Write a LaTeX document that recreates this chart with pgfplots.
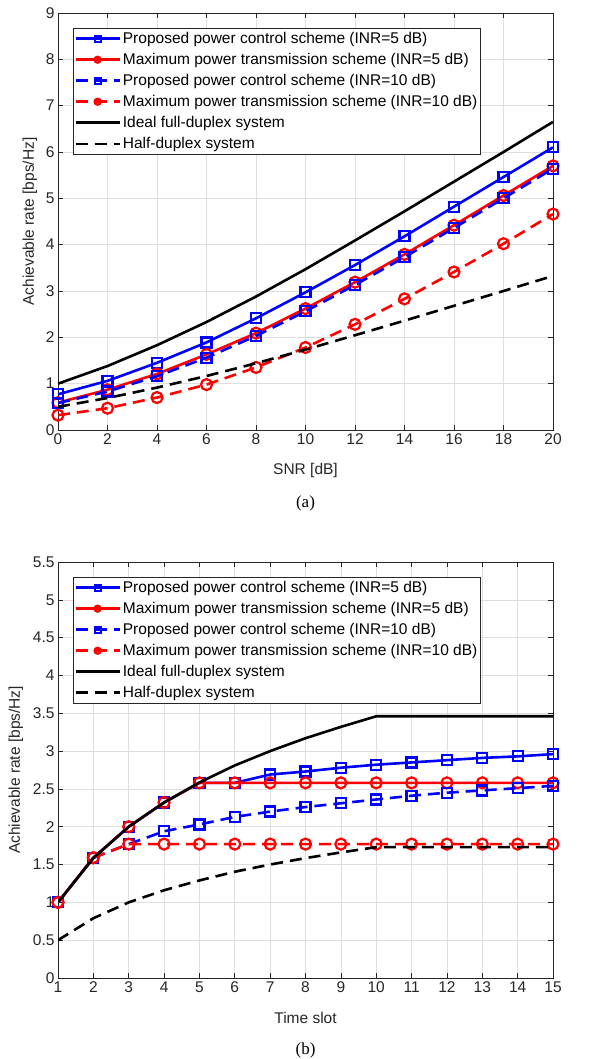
\documentclass[border=0pt]{standalone}
\usepackage{fontspec}
\setmainfont{Liberation Sans}
\newfontfamily\capfont{Liberation Serif}
\usepackage{pgfplots}
\pgfplotsset{compat=1.18}

\definecolor{axgray}{RGB}{38,38,38}
\definecolor{gridgray}{RGB}{222,222,222}

\pgfplotsset{
  myaxis/.style={
    scale only axis, width=495pt, clip mode=individual,
    font=\fontsize{15.5}{18}\selectfont,
    axis line style={axgray, line width=0.6pt},
    every tick/.style={axgray, line width=0.6pt},
    major tick length=5pt,
    tick label style={text=axgray},
    /pgf/number format/assume math mode=true,
    label style={text=axgray},
    grid=major, major grid style={gridgray, line width=0.6pt},
    ylabel={Achievable rate [bps/Hz]},
    xlabel style={at={(axis description cs:0.5,-0.096)}, anchor=center},
    legend cell align=left,
    legend style={at={(axis description cs:0.0303,0.964)}, anchor=north west,
      draw=axgray, line width=0.6pt, inner xsep=1pt, inner ysep=2.5pt,
      font=\fontsize{15.5}{18}\selectfont, row sep=5.3pt,
      nodes={inner xsep=2pt, inner ysep=1.5pt}},
    legend image code/.code={
      \draw[mark repeat=2, mark phase=2, mark size=3pt] plot coordinates {(0pt,0pt) (22pt,0pt) (44pt,0pt)};},
  },
  ps/.style={blue, line width=2.6pt, mark=square, mark size=5pt, mark options={solid, line width=2.2pt}},
  mc/.style={red, line width=2.6pt, mark=o, mark size=5.5pt, mark options={solid, line width=2.2pt}},
  dsh/.style={dash pattern=on 12pt off 7pt},
}

\begin{document}
\begin{tikzpicture}
\useasboundingbox (0,0) rectangle (596pt,1059pt);

% (a) rate versus SNR
\begin{axis}[myaxis, height=417pt, at={(58pt,629pt)}, anchor=south west,
  xmin=0, xmax=20, ymin=0, ymax=9,
  xtick={0,2,...,20}, ytick={0,1,...,9},
  ylabel style={at={(axis description cs:-0.057,0.5)}, anchor=center},
  xlabel={SNR [dB]}]
\addplot[ps] coordinates {(0,0.77) (2,1.06) (4,1.45) (6,1.89) (8,2.41) (10,2.97) (12,3.56) (14,4.18) (16,4.82) (18,5.46) (20,6.10)};
\addlegendentry{Proposed power control scheme (INR=5 dB)}
\addplot[mc] coordinates {(0,0.59) (2,0.87) (4,1.21) (6,1.63) (8,2.09) (10,2.62) (12,3.19) (14,3.79) (16,4.42) (18,5.06) (20,5.70)};
\addlegendentry{Maximum power transmission scheme (INR=5 dB)}
\addplot[ps, dsh] coordinates {(0,0.58) (2,0.83) (4,1.16) (6,1.56) (8,2.03) (10,2.56) (12,3.13) (14,3.73) (16,4.36) (18,5.00) (20,5.64)};
\addlegendentry{Proposed power control scheme (INR=10 dB)}
\addplot[mc, dsh] coordinates {(0,0.32) (2,0.47) (4,0.70) (6,0.98) (8,1.35) (10,1.78) (12,2.28) (14,2.83) (16,3.41) (18,4.02) (20,4.66)};
\addlegendentry{Maximum power transmission scheme (INR=10 dB)}
\addplot[black, line width=2.6pt] coordinates {(0,1.00) (2,1.38) (4,1.83) (6,2.33) (8,2.88) (10,3.47) (12,4.09) (14,4.72) (16,5.36) (18,6.00) (20,6.65)};
\addlegendentry{Ideal full-duplex system}
\addplot[black, line width=2.6pt, dsh] coordinates {(0,0.50) (2,0.69) (4,0.915) (6,1.165) (8,1.44) (10,1.735) (12,2.045) (14,2.36) (16,2.68) (18,3.00) (20,3.325)};
\addlegendentry{Half-duplex system}
\node[font=\capfont\fontsize{17}{19}\selectfont, text=black] at (axis description cs:0.5,-0.175) {(a)};
\end{axis}

% (b) rate versus time slot
\begin{axis}[myaxis, height=416pt, at={(58pt,81pt)}, anchor=south west,
  xmin=1, xmax=15, ymin=0, ymax=5.5,
  xtick={1,...,15}, ytick={0,0.5,...,5.5},
  ylabel style={at={(axis description cs:-0.085,0.5)}, anchor=center},
  xlabel={Time slot}]
\addplot[ps] coordinates {(1,1) (2,1.59) (3,2.0) (4,2.32) (5,2.58) (6,2.58) (7,2.69) (8,2.73) (9,2.78) (10,2.82) (11,2.85) (12,2.88) (13,2.91) (14,2.93) (15,2.96)};
\addlegendentry{Proposed power control scheme (INR=5 dB)}
\addplot[mc] coordinates {(1,1) (2,1.59) (3,2.0) (4,2.32) (5,2.58) (6,2.58) (7,2.58) (8,2.58) (9,2.58) (10,2.58) (11,2.58) (12,2.58) (13,2.58) (14,2.58) (15,2.58)};
\addlegendentry{Maximum power transmission scheme (INR=5 dB)}
\addplot[ps, dsh] coordinates {(1,1) (2,1.59) (3,1.77) (4,1.94) (5,2.03) (6,2.13) (7,2.20) (8,2.26) (9,2.31) (10,2.36) (11,2.41) (12,2.45) (13,2.48) (14,2.51) (15,2.54)};
\addlegendentry{Proposed power control scheme (INR=10 dB)}
\addplot[mc, dsh] coordinates {(1,1) (2,1.59) (3,1.77) (4,1.77) (5,1.77) (6,1.77) (7,1.77) (8,1.77) (9,1.77) (10,1.77) (11,1.77) (12,1.77) (13,1.77) (14,1.77) (15,1.77)};
\addlegendentry{Maximum power transmission scheme (INR=10 dB)}
\addplot[black, line width=2.6pt] coordinates {(1,1) (2,1.585) (3,2.0) (4,2.32) (5,2.585) (6,2.81) (7,3.0) (8,3.17) (9,3.32) (10,3.46) (11,3.46) (12,3.46) (13,3.46) (14,3.46) (15,3.46)};
\addlegendentry{Ideal full-duplex system}
\addplot[black, line width=2.6pt, dsh] coordinates {(1,0.5) (2,0.79) (3,1.0) (4,1.16) (5,1.29) (6,1.405) (7,1.5) (8,1.585) (9,1.66) (10,1.73) (11,1.73) (12,1.73) (13,1.73) (14,1.73) (15,1.73)};
\addlegendentry{Half-duplex system}
\node[font=\capfont\fontsize{17}{19}\selectfont, text=black] at (axis description cs:0.5,-0.173) {(b)};
\end{axis}
\end{tikzpicture}
\end{document}
